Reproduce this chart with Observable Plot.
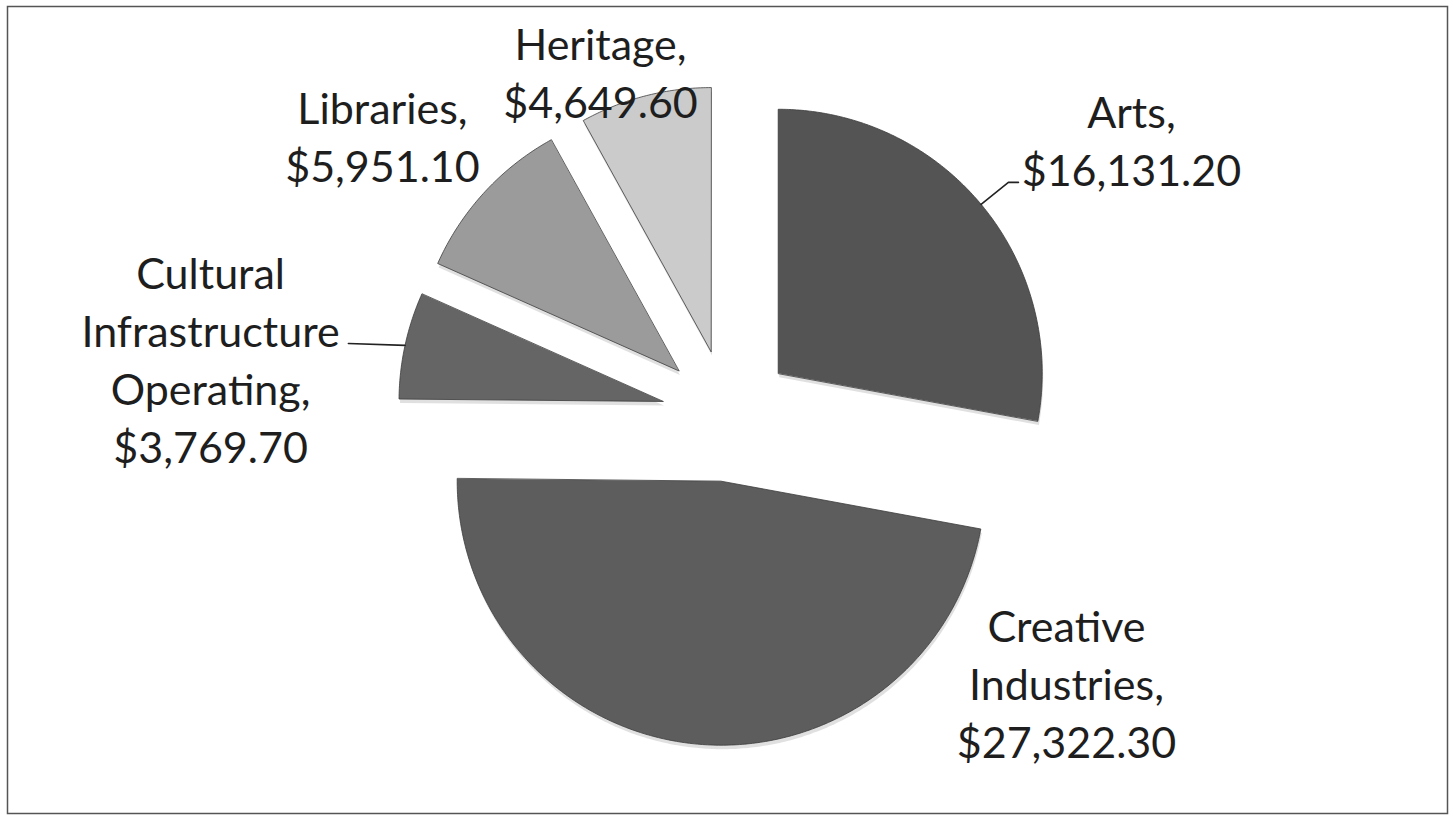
<!DOCTYPE html>
<html><head><meta charset="utf-8">
<script src="https://cdn.jsdelivr.net/npm/d3@7"></script>
<script src="https://cdn.jsdelivr.net/npm/@observablehq/plot@0.6"></script>
<style>html,body{margin:0;padding:0;background:#fff;overflow:hidden}</style>
</head><body><div id="chart"></div>
<script>
// ---- data ----
const categories = ["Arts", "Creative Industries", "Cultural Infrastructure Operating", "Libraries", "Heritage"];
const values = [16131.20, 27322.30, 3769.70, 5951.10, 4649.60];
const wrappedNames = [["Arts"], ["Creative", "Industries"], ["Cultural", "Infrastructure", "Operating"], ["Libraries"], ["Heritage"]];
const colors = ["#545454", "#5d5d5d", "#656565", "#9b9b9b", "#cbcbcb"];

// ---- layout (chart units: 1 = pie radius) ----
const W = 1453, H = 818;
const M = {top: 6, right: 6, bottom: 5, left: 7};
const R = 264, CX = 727, CY = 415;           // pixel centre / radius used to set the scale domains
const explode = 0.25;
const labelAt = [[1.530, 1.048], [1.284, -1.006], [-1.958, 0.220], [-1.307, 1.066], [-0.481, 1.306]];
const leaderEnd = {0: [[1.064, 0.883], [1.102, 0.883]], 2: [[-1.436, 0.273]]};

const fmt = d3.format(",.2f");
const arcs = d3.pie().sort(null).value(d => d)(values);

const slicePts = [];
const labels = [];
const leaders = [];
arcs.forEach((a, i) => {
  const mid = (a.startAngle + a.endAngle) / 2;
  const vx = explode * Math.sin(mid), vy = explode * Math.cos(mid);
  slicePts.push({cat: categories[i], x: vx, y: vy});
  const n = Math.max(2, Math.ceil((a.endAngle - a.startAngle) / 0.01));
  for (let k = 0; k <= n; k++) {
    const t = a.startAngle + (a.endAngle - a.startAngle) * k / n;
    slicePts.push({cat: categories[i], x: vx + Math.sin(t), y: vy + Math.cos(t)});
  }
  const lines = wrappedNames[i].slice();
  lines[lines.length - 1] += ",";
  lines.push("$" + fmt(values[i]));
  labels.push({cat: categories[i], x: labelAt[i][0], y: labelAt[i][1], text: lines.join("\n")});
  if (leaderEnd[i]) {
    leaders.push({cat: categories[i], x: vx + Math.sin(mid), y: vy + Math.cos(mid)});
    leaderEnd[i].forEach(p => leaders.push({cat: categories[i], x: p[0], y: p[1]}));
  }
});

const xDom = [(M.left - CX) / R, (W - M.right - CX) / R];
const yDom = [(CY - (H - M.bottom)) / R, (CY - M.top) / R];

const chart = Plot.plot({
  width: W, height: H,
  marginTop: M.top, marginRight: M.right, marginBottom: M.bottom, marginLeft: M.left,
  x: {domain: xDom, axis: null},
  y: {domain: yDom, axis: null},
  color: {domain: categories, range: colors},
  style: {fontFamily: "Lato, 'Open Sans', sans-serif", background: "#fff"},
  marks: [
    Plot.frame({stroke: "#555", strokeWidth: 1.5}),
    Plot.line(slicePts, {x: "x", y: "y", z: "cat", fill: "#000", fillOpacity: 0.12, stroke: "none", curve: "linear-closed", dy: 4, dx: 1}),
    Plot.line(slicePts, {x: "x", y: "y", z: "cat", fill: "cat", stroke: "#3c3c3c", strokeWidth: 0.8, curve: "linear-closed"}),
    Plot.line(leaders, {x: "x", y: "y", z: "cat", stroke: "#222", strokeWidth: 1.6}),
    Plot.text(labels, {x: "x", y: "y", text: "text", fontSize: 43, lineHeight: 1.35, fill: "#1e1e1e"})
  ]
});
document.getElementById("chart").appendChild(chart);
</script>
</body></html>
